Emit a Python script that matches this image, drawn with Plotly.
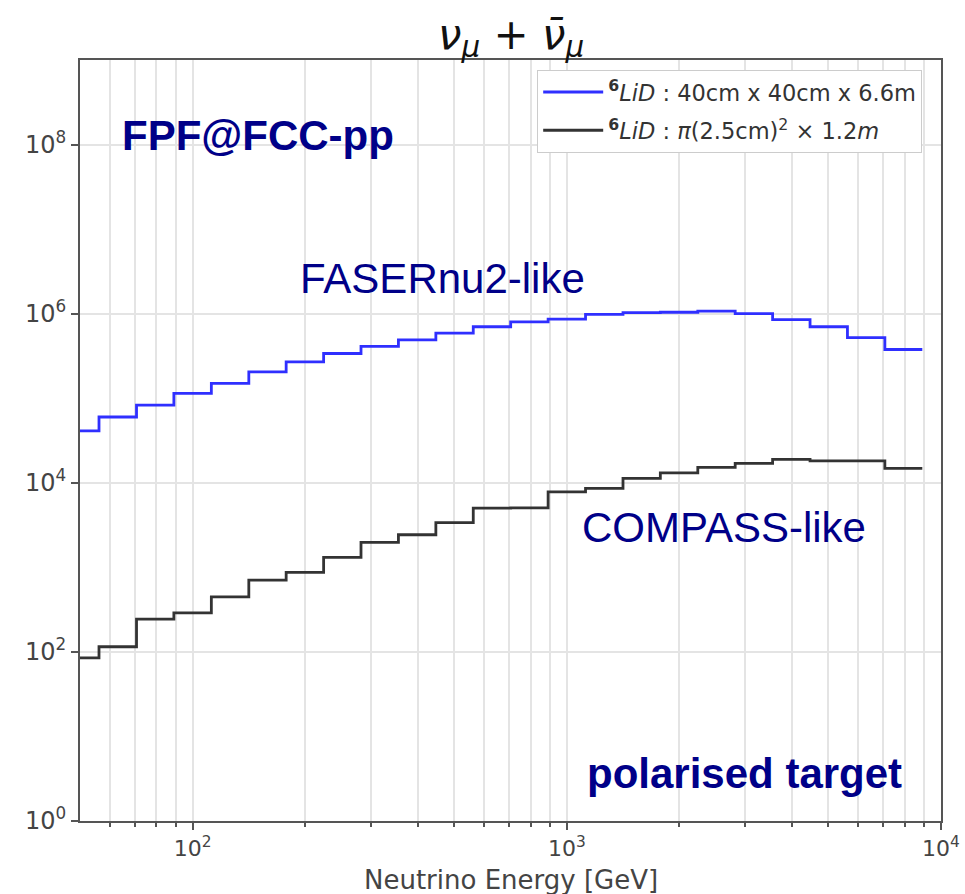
import plotly.graph_objects as go

# Bin edges (GeV), log-spaced bins
bin_edges = [44.7, 56.2, 70.8, 89.1, 112.2, 141.3, 177.8, 223.9, 281.8, 354.8,
             446.7, 562.3, 707.9, 891.3, 1122, 1413, 1778, 2239, 2818, 3548,
             4467, 5623, 7079, 8913]

# Event counts per bin
faser_counts = [4.1e4, 6.0e4, 8.3e4, 1.14e5, 1.5e5, 2.05e5, 2.69e5, 3.38e5,
                4.1e5, 4.9e5, 5.9e5, 7.0e5, 8.0e5, 8.6e5, 9.8e5, 1.03e6,
                1.04e6, 1.07e6, 1.0e6, 8.5e5, 7.0e5, 5.2e5, 3.77e5]
compass_counts = [85, 115, 244, 290, 448, 706, 871, 1310, 1970, 2430, 3370,
                  5020, 5060, 7800, 8600, 11300, 13100, 15200, 17000, 18900,
                  18200, 18200, 14800]

series_names = ["<b><sup>6</sup></b><i>LiD</i> : 40cm x 40cm x 6.6m",
                "<b><sup>6</sup></b><i>LiD</i> : <i>π</i>(2.5cm)<sup>2</sup> × 1.2<i>m</i>"]
series_colors = ["#2f2fff", "#333333"]

x_tickvals = [100, 1000, 10000]
x_ticktext = ["10<sup>2</sup>", "10<sup>3</sup>", "10<sup>4</sup>"]
x_minorvals = [60, 70, 80, 90, 200, 300, 400, 500, 600, 700, 800, 900,
               2000, 3000, 4000, 5000, 6000, 7000, 8000, 9000]
y_tickvals = [1, 1e2, 1e4, 1e6, 1e8]
y_ticktext = ["10<sup>0</sup>", "10<sup>2</sup>", "10<sup>4</sup>",
              "10<sup>6</sup>", "10<sup>8</sup>"]
x_title = "Neutrino Energy [GeV]"

fig = go.Figure()
for i, (name, vals, col) in enumerate(zip(series_names, [faser_counts, compass_counts], series_colors)):
    fig.add_trace(go.Scatter(
        x=bin_edges, y=vals + [vals[-1]], mode="lines", name=name,
        legendgroup="g%d" % i,
        line=dict(color=col, width=2.8, shape="hv"),
    ))

fig.update_xaxes(
    type="log", range=[1.69897, 4], tickvals=x_tickvals, ticktext=x_ticktext,
    ticks="outside", ticklen=7, tickwidth=1.5, tickcolor="#555555",
    showgrid=True, gridcolor="#e4e4e4", gridwidth=1.5,
    minor=dict(tickvals=x_minorvals, ticks="outside", ticklen=4,
               tickcolor="#555555", showgrid=True, gridcolor="#e4e4e4", gridwidth=1.5),
    showline=True, mirror=True, linecolor="#555555", linewidth=2,
    tickfont=dict(family="DejaVu Sans", size=22, color="#444444"), zeroline=False,
    automargin=False,
)
fig.update_yaxes(
    type="log", range=[0, 9], tickvals=y_tickvals, ticktext=y_ticktext,
    ticks="outside", ticklen=7, tickwidth=1.5, tickcolor="#555555",
    showgrid=True, gridcolor="#e4e4e4", gridwidth=1.5,
    showline=True, mirror=True, linecolor="#555555", linewidth=2,
    tickfont=dict(family="DejaVu Sans", size=24, color="#444444"), zeroline=False,
    automargin=False,
)

fig.add_annotation(text=x_title, x=0.5, y=-0.0775, xref="paper", yref="paper",
                   xanchor="center", yanchor="middle", showarrow=False,
                   font=dict(family="DejaVu Sans", size=26, color="#444444"))

navy = "#000088"
ann = [
    ("<b>FPF@FCC-pp</b>", 0.046, 0.901),
    ("FASERnu2-like", 0.253, 0.7135),
    ("COMPASS-like", 0.581, 0.386),
    ("<b>polarised target</b>", 0.5865, 0.063),
]
for txt, ax, ay in ann:
    fig.add_annotation(text=txt, x=ax, y=ay, xref="paper", yref="paper",
                       xanchor="left", yanchor="middle", showarrow=False,
                       font=dict(family="Liberation Sans", size=42, color=navy))

fig.update_layout(
    width=965, height=894,
    margin=dict(l=80, r=24, t=60, b=73),
    paper_bgcolor="white", plot_bgcolor="white",
    title=dict(text="<i>ν</i><sub><i>μ</i></sub> + <i>ν̄</i><sub><i>μ</i></sub>",
               x=0.5296, xanchor="center", y=0.962, yanchor="middle",
               font=dict(family="DejaVu Sans", size=42, color="#111111")),
    legend=dict(x=0.531, y=0.987, xanchor="left", yanchor="top",
                bgcolor="white", bordercolor="#cccccc", borderwidth=1,
                itemwidth=60, tracegroupgap=6,
                font=dict(family="DejaVu Sans", size=22.5, color="#333333")),
    showlegend=True,
)

fig.write_html("out.html")
